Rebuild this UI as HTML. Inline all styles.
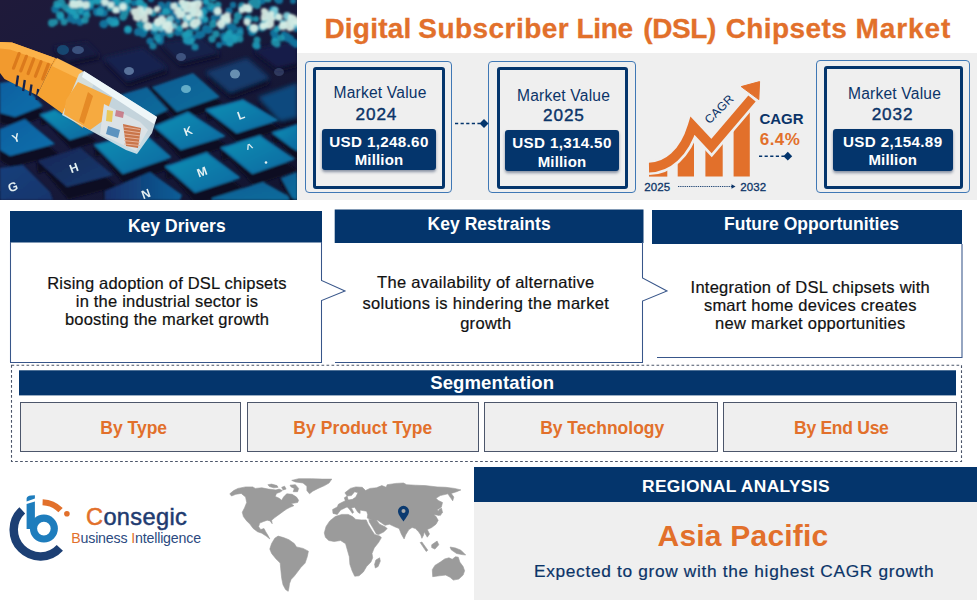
<!DOCTYPE html>
<html><head><meta charset="utf-8"><title>DSL Chipsets Market</title>
<style>
html,body{margin:0;padding:0;background:#fff;}
body{width:977px;height:600px;position:relative;overflow:hidden;font-family:"Liberation Sans",sans-serif;}
.abs{position:absolute;}
.t{position:absolute;white-space:nowrap;text-align:center;}
</style></head><body>
<svg class="abs" style="left:0;top:0" width="297" height="200" viewBox="0 0 297 200"><defs>
<linearGradient id="bg" x1="0" y1="0" x2="1" y2="1"><stop offset="0" stop-color="#1f1a3a"/><stop offset="0.4" stop-color="#181a3c"/><stop offset="1" stop-color="#12142f"/></linearGradient>
<linearGradient id="kb" x1="0" y1="0" x2="1" y2="1"><stop offset="0" stop-color="#1290b4"/><stop offset="1" stop-color="#0c68a0"/></linearGradient>
<linearGradient id="km" x1="0" y1="0" x2="1" y2="1"><stop offset="0" stop-color="#0e5e94"/><stop offset="1" stop-color="#0d6c9c"/></linearGradient>
<linearGradient id="kl" x1="0" y1="0" x2="1" y2="1"><stop offset="0" stop-color="#0f5fa0"/><stop offset="1" stop-color="#1070ab"/></linearGradient>
<linearGradient id="kd" x1="0" y1="0" x2="1" y2="1"><stop offset="0" stop-color="#1a2655"/><stop offset="1" stop-color="#173b70"/></linearGradient>
<linearGradient id="kd2" x1="0" y1="0" x2="1" y2="1"><stop offset="0" stop-color="#123f7b"/><stop offset="1" stop-color="#15356c"/></linearGradient>
<linearGradient id="kn" x1="0" y1="0" x2="1" y2="0"><stop offset="0" stop-color="#15306a"/><stop offset="1" stop-color="#0e5f98"/></linearGradient>
<filter id="b1" x="-5%" y="-5%" width="110%" height="110%"><feGaussianBlur stdDeviation="0.9"/></filter>
<filter id="b2" x="-5%" y="-5%" width="110%" height="110%"><feGaussianBlur stdDeviation="0.8"/></filter>
<filter id="b3" x="-5%" y="-5%" width="110%" height="110%"><feGaussianBlur stdDeviation="0.55"/></filter>
<filter id="b4" x="-5%" y="-5%" width="110%" height="110%"><feGaussianBlur stdDeviation="2.2"/></filter>
</defs><rect width="297" height="200" fill="url(#bg)"/><g filter="url(#b4)"><polygon points="104,63 144,53 169,73 128,87" fill="#0f0f26" /><polygon points="103,58 143,48 168,68 127,82" fill="#17244f" /><polygon points="161,47 201,41 221,57 181,67" fill="#0f0f26" /><polygon points="160,43 200,37 220,53 180,63" fill="#17224c" /><polygon points="54,51 88,46 101,59 68,66" fill="#0f0f26" /><polygon points="53,47 87,42 100,55 67,62" fill="#181c42" /><polygon points="254,54 298,44 298,67 278,72" fill="#0f0f26" /><polygon points="253,50 297,40 297,63 277,68" fill="#161f49" /><polygon points="206,78 248,64 271,84 231,99" fill="#0f0f26" /><polygon points="205,72 247,58 270,78 230,93" fill="#123b6c" /><polygon points="259,104 298,90 298,124 281,128" fill="#0f0f26" /><polygon points="258,97 297,83 297,117 280,121" fill="#0f4a7e" /></g><g filter="url(#b1)"><polygon points="153.5,95 194.5,81 221.5,105 178.5,120 152,87" fill="#0f0d22" stroke="#0f0d22" stroke-width="2.5" stroke-linejoin="round"/><polygon points="152,87 193,73 220,97 177,112" fill="url(#km)" stroke="none" stroke-width="2" stroke-linejoin="round"/><polygon points="121.5,103 148.5,95 169.5,118 151.5,126 120,95" fill="#0f0d22" stroke="#0f0d22" stroke-width="2.5" stroke-linejoin="round"/><polygon points="120,95 147,87 168,110 150,118" fill="url(#km)" stroke="none" stroke-width="2" stroke-linejoin="round"/><polygon points="1.5,92 21.5,89 44.5,115 16.5,126 1.5,122 0,83" fill="#0f0d22" stroke="#0f0d22" stroke-width="2.5" stroke-linejoin="round"/><polygon points="0,83 20,80 43,106 15,117 0,113" fill="url(#kl)" stroke="none" stroke-width="2" stroke-linejoin="round"/><polygon points="42.5,124 56.5,119 94.5,141 71.5,148 41,115" fill="#0f0d22" stroke="#0f0d22" stroke-width="2.5" stroke-linejoin="round"/><polygon points="41,115 55,110 93,132 70,139" fill="url(#kb)" stroke="#0e6fa3" stroke-width="2" stroke-linejoin="round"/><polygon points="1.5,139 26.5,129 56.5,154 11.5,166 1.5,160 0,129" fill="#0f0d22" stroke="#0f0d22" stroke-width="2.5" stroke-linejoin="round"/><polygon points="0,129 25,119 55,144 10,156 0,150" fill="url(#kl)" stroke="none" stroke-width="2" stroke-linejoin="round"/><polygon points="156.5,136.7 189.5,122.5 225.5,146 182.5,159 155,126.7" fill="#0f0d22" stroke="#0f0d22" stroke-width="2.5" stroke-linejoin="round"/><polygon points="155,126.7 188,112.5 224,136 181,149" fill="url(#kb)" stroke="#0e6fa3" stroke-width="2" stroke-linejoin="round"/><polygon points="208.2,119 244.5,109 278.2,129 238.2,141.5 206.7,110" fill="#0f0d22" stroke="#0f0d22" stroke-width="2.5" stroke-linejoin="round"/><polygon points="206.7,110 243,100 276.7,120 236.7,132.5" fill="url(#kb)" stroke="#0e6fa3" stroke-width="2" stroke-linejoin="round"/><polygon points="274.5,142 298.5,134 298.5,159 293.5,156 273,133" fill="#0f0d22" stroke="#0f0d22" stroke-width="2.5" stroke-linejoin="round"/><polygon points="273,133 297,125 297,150 292,147" fill="url(#kb)" stroke="#0e6fa3" stroke-width="2" stroke-linejoin="round"/><polygon points="96.5,155 144.5,143 171.5,167 124.5,183 95,145" fill="#0f0d22" stroke="#0f0d22" stroke-width="2.5" stroke-linejoin="round"/><polygon points="95,145 143,133 170,157 123,173" fill="url(#kb)" stroke="#0e6fa3" stroke-width="2" stroke-linejoin="round"/><polygon points="39,172 81.5,158.5 114.5,186 68.5,198 37.5,161" fill="#0f0d22" stroke="#0f0d22" stroke-width="2.5" stroke-linejoin="round"/><polygon points="37.5,161 80,147.5 113,175 67,187" fill="url(#kd)" stroke="none" stroke-width="2" stroke-linejoin="round"/><polygon points="167.5,177.7 208.2,164 240.5,188.5 196.5,202.7 166,166.7" fill="#0f0d22" stroke="#0f0d22" stroke-width="2.5" stroke-linejoin="round"/><polygon points="166,166.7 206.7,153 239,177.5 195,191.7" fill="url(#kb)" stroke="#0e6fa3" stroke-width="2" stroke-linejoin="round"/><polygon points="223.2,159 261.5,147 294.5,170 254,184 221.7,148" fill="#0f0d22" stroke="#0f0d22" stroke-width="2.5" stroke-linejoin="round"/><polygon points="221.7,148 260,136 293,159 252.5,173" fill="url(#kb)" stroke="#0e6fa3" stroke-width="2" stroke-linejoin="round"/><polygon points="1.5,179 24.5,176 51.5,203 54.5,211 1.5,211 0,168" fill="#0f0d22" stroke="#0f0d22" stroke-width="2.5" stroke-linejoin="round"/><polygon points="0,168 23,165 50,192 53,200 0,200" fill="url(#kd2)" stroke="none" stroke-width="2" stroke-linejoin="round"/><polygon points="106.5,202 151.5,183 183.5,206 181.5,211 106.5,211 105,191" fill="#0f0d22" stroke="#0f0d22" stroke-width="2.5" stroke-linejoin="round"/><polygon points="105,191 150,172 182,195 180,200 105,200" fill="url(#kn)" stroke="none" stroke-width="2" stroke-linejoin="round"/><polygon points="213.5,205 264.5,189 293.5,205 293.5,207 213.5,207 212,198" fill="#0f0d22" stroke="#0f0d22" stroke-width="2.5" stroke-linejoin="round"/><polygon points="212,198 263,182 292,198 292,200 212,200" fill="url(#km)" stroke="none" stroke-width="2" stroke-linejoin="round"/><polygon points="282.5,185 298.5,179 298.5,207 293.5,205 281,178" fill="#0f0d22" stroke="#0f0d22" stroke-width="2.5" stroke-linejoin="round"/><polygon points="281,178 297,172 297,200 292,198" fill="url(#km)" stroke="none" stroke-width="2" stroke-linejoin="round"/></g><g filter="url(#b2)"><g fill="#1388b3" opacity="0.8"><circle cx="163" cy="33" r="3.6"/><circle cx="176" cy="5" r="3.6"/><circle cx="206" cy="2" r="3.4"/><circle cx="74" cy="21" r="3.1"/><circle cx="293" cy="42" r="3.7"/><circle cx="91" cy="7" r="3.1"/><circle cx="99" cy="-1" r="3.6"/><circle cx="160" cy="41" r="3.8"/><circle cx="174" cy="15" r="3.3"/><circle cx="296" cy="44" r="3.8"/><circle cx="129" cy="9" r="3.1"/><circle cx="240" cy="30" r="3.5"/><circle cx="287" cy="36" r="3.3"/><circle cx="275" cy="35" r="3.5"/><circle cx="70" cy="11" r="3.3"/><circle cx="73" cy="14" r="3.9"/><circle cx="81" cy="-0" r="3.1"/><circle cx="247" cy="19" r="3.5"/><circle cx="99" cy="0" r="3.8"/><circle cx="81" cy="2" r="3.3"/><circle cx="290" cy="39" r="4.1"/><circle cx="104" cy="13" r="3.8"/><circle cx="77" cy="17" r="3.3"/><circle cx="241" cy="9" r="3.1"/><circle cx="74" cy="2" r="3.7"/><circle cx="143" cy="34" r="3.6"/><circle cx="193" cy="38" r="3.2"/><circle cx="275" cy="38" r="3.2"/><circle cx="233" cy="38" r="4.1"/><circle cx="268" cy="14" r="3.1"/><circle cx="61" cy="17" r="3.8"/><circle cx="115" cy="20" r="3.4"/><circle cx="95" cy="-1" r="3.3"/><circle cx="189" cy="42" r="3.3"/><circle cx="277" cy="-1" r="3.3"/><circle cx="161" cy="5" r="3.4"/><circle cx="192" cy="12" r="4.1"/><circle cx="292" cy="24" r="3.7"/><circle cx="86" cy="-2" r="4.1"/><circle cx="224" cy="36" r="3.8"/><circle cx="170" cy="10" r="4.2"/><circle cx="70" cy="11" r="4.1"/><circle cx="233" cy="28" r="4.1"/><circle cx="138" cy="32" r="4.0"/><circle cx="154" cy="31" r="3.7"/><circle cx="205" cy="20" r="3.7"/><circle cx="72" cy="15" r="4.1"/><circle cx="230" cy="26" r="3.7"/><circle cx="160" cy="37" r="3.9"/><circle cx="59" cy="6" r="3.3"/><circle cx="223" cy="21" r="4.1"/><circle cx="115" cy="3" r="3.8"/><circle cx="102" cy="13" r="3.8"/><circle cx="160" cy="39" r="3.8"/><circle cx="101" cy="12" r="4.1"/><circle cx="268" cy="20" r="3.4"/><circle cx="85" cy="12" r="4.0"/><circle cx="226" cy="38" r="3.2"/><circle cx="162" cy="6" r="3.5"/><circle cx="205" cy="10" r="4.0"/><circle cx="293" cy="1" r="3.0"/><circle cx="266" cy="25" r="3.7"/><circle cx="128" cy="-1" r="3.2"/><circle cx="163" cy="30" r="3.3"/><circle cx="87" cy="9" r="3.5"/><circle cx="206" cy="29" r="4.2"/><circle cx="220" cy="16" r="3.2"/><circle cx="55" cy="10" r="3.2"/><circle cx="119" cy="10" r="3.6"/><circle cx="203" cy="13" r="4.0"/><circle cx="274" cy="33" r="3.9"/><circle cx="84" cy="9" r="4.1"/><circle cx="144" cy="31" r="4.0"/><circle cx="283" cy="23" r="3.2"/><circle cx="229" cy="42" r="3.9"/><circle cx="104" cy="24" r="4.2"/><circle cx="184" cy="10" r="4.1"/><circle cx="262" cy="1" r="3.5"/><circle cx="187" cy="17" r="3.0"/><circle cx="250" cy="28" r="3.2"/><circle cx="134" cy="3" r="3.2"/><circle cx="179" cy="30" r="3.8"/><circle cx="284" cy="34" r="3.1"/><circle cx="106" cy="3" r="3.9"/><circle cx="209" cy="30" r="3.7"/><circle cx="128" cy="30" r="4.1"/><circle cx="103" cy="24" r="3.6"/><circle cx="192" cy="18" r="3.6"/><circle cx="200" cy="35" r="3.6"/><circle cx="150" cy="41" r="3.6"/><circle cx="221" cy="18" r="3.5"/><circle cx="286" cy="38" r="3.6"/><circle cx="83" cy="12" r="4.1"/><circle cx="169" cy="5" r="3.7"/><circle cx="279" cy="28" r="3.0"/><circle cx="100" cy="10" r="3.4"/><circle cx="139" cy="2" r="3.9"/><circle cx="82" cy="2" r="3.2"/><circle cx="182" cy="12" r="3.5"/><circle cx="182" cy="6" r="3.8"/><circle cx="208" cy="30" r="3.7"/><circle cx="262" cy="26" r="4.0"/><circle cx="273" cy="10" r="4.1"/><circle cx="105" cy="23" r="3.2"/><circle cx="111" cy="2" r="3.1"/><circle cx="256" cy="28" r="3.2"/><circle cx="151" cy="-1" r="3.2"/><circle cx="219" cy="45" r="3.1"/><circle cx="176" cy="17" r="3.8"/><circle cx="98" cy="-0" r="3.0"/><circle cx="187" cy="20" r="3.2"/><circle cx="97" cy="12" r="4.2"/><circle cx="279" cy="0" r="4.1"/><circle cx="165" cy="10" r="3.6"/><circle cx="178" cy="21" r="3.0"/><circle cx="224" cy="38" r="3.5"/><circle cx="233" cy="5" r="3.2"/><circle cx="178" cy="32" r="4.0"/><circle cx="225" cy="42" r="3.5"/><circle cx="199" cy="35" r="4.0"/><circle cx="115" cy="22" r="3.9"/><circle cx="252" cy="32" r="4.1"/><circle cx="222" cy="27" r="3.5"/><circle cx="229" cy="11" r="3.6"/><circle cx="55" cy="9" r="3.7"/><circle cx="109" cy="21" r="3.4"/><circle cx="214" cy="18" r="3.5"/><circle cx="297" cy="25" r="3.9"/><circle cx="292" cy="21" r="3.9"/><circle cx="115" cy="-1" r="3.2"/><circle cx="144" cy="8" r="4.1"/><circle cx="187" cy="35" r="3.7"/><circle cx="296" cy="29" r="3.1"/><circle cx="198" cy="-0" r="4.1"/><circle cx="91" cy="1" r="3.6"/><circle cx="202" cy="34" r="3.5"/><circle cx="181" cy="12" r="3.3"/><circle cx="213" cy="9" r="3.9"/><circle cx="125" cy="2" r="3.1"/><circle cx="90" cy="5" r="4.1"/><circle cx="235" cy="36" r="4.1"/><circle cx="70" cy="19" r="3.6"/><circle cx="290" cy="18" r="4.1"/><circle cx="229" cy="35" r="4.0"/><circle cx="200" cy="22" r="3.5"/><circle cx="102" cy="7" r="3.1"/><circle cx="161" cy="15" r="3.3"/><circle cx="195" cy="28" r="3.6"/><circle cx="296" cy="43" r="3.3"/><circle cx="80" cy="22" r="3.7"/></g><g fill="#1fa8bf" opacity="0.8"><circle cx="140" cy="24" r="3.7"/><circle cx="197" cy="27" r="3.2"/><circle cx="113" cy="23" r="4.1"/><circle cx="62" cy="3" r="3.5"/><circle cx="205" cy="19" r="3.1"/><circle cx="73" cy="7" r="3.8"/><circle cx="143" cy="6" r="3.4"/><circle cx="234" cy="37" r="3.1"/><circle cx="250" cy="27" r="3.3"/><circle cx="156" cy="29" r="3.4"/><circle cx="212" cy="39" r="3.7"/><circle cx="235" cy="40" r="3.4"/><circle cx="76" cy="16" r="3.1"/><circle cx="190" cy="24" r="3.4"/><circle cx="242" cy="6" r="3.8"/><circle cx="72" cy="10" r="3.8"/><circle cx="121" cy="4" r="3.9"/><circle cx="142" cy="25" r="3.7"/><circle cx="277" cy="44" r="3.5"/><circle cx="249" cy="10" r="3.5"/><circle cx="281" cy="38" r="3.4"/><circle cx="142" cy="13" r="3.5"/><circle cx="100" cy="12" r="3.6"/><circle cx="257" cy="5" r="3.9"/><circle cx="268" cy="-1" r="3.6"/><circle cx="185" cy="35" r="3.8"/><circle cx="249" cy="19" r="3.9"/><circle cx="73" cy="11" r="4.1"/><circle cx="73" cy="0" r="3.9"/><circle cx="211" cy="6" r="3.9"/><circle cx="180" cy="13" r="3.4"/><circle cx="289" cy="17" r="3.6"/><circle cx="229" cy="33" r="3.5"/><circle cx="254" cy="30" r="4.0"/><circle cx="256" cy="45" r="3.8"/><circle cx="180" cy="28" r="3.5"/><circle cx="155" cy="26" r="4.2"/><circle cx="144" cy="6" r="3.5"/><circle cx="124" cy="16" r="3.4"/><circle cx="80" cy="11" r="3.2"/><circle cx="67" cy="8" r="4.1"/><circle cx="61" cy="1" r="3.3"/><circle cx="110" cy="8" r="3.3"/><circle cx="97" cy="1" r="3.9"/><circle cx="128" cy="29" r="3.6"/><circle cx="116" cy="23" r="3.4"/><circle cx="186" cy="40" r="3.3"/><circle cx="64" cy="22" r="3.5"/><circle cx="181" cy="8" r="4.2"/><circle cx="213" cy="-2" r="3.6"/><circle cx="143" cy="25" r="3.7"/><circle cx="91" cy="3" r="3.3"/><circle cx="265" cy="22" r="4.2"/><circle cx="117" cy="1" r="3.9"/><circle cx="52" cy="23" r="4.0"/><circle cx="72" cy="10" r="3.1"/><circle cx="170" cy="34" r="3.7"/><circle cx="262" cy="28" r="3.5"/><circle cx="277" cy="29" r="3.3"/><circle cx="185" cy="4" r="4.0"/><circle cx="128" cy="1" r="3.4"/><circle cx="166" cy="12" r="3.8"/><circle cx="78" cy="6" r="4.2"/><circle cx="255" cy="-2" r="3.5"/><circle cx="226" cy="19" r="3.5"/><circle cx="55" cy="22" r="3.2"/><circle cx="203" cy="12" r="3.6"/><circle cx="125" cy="13" r="3.8"/><circle cx="115" cy="10" r="3.4"/><circle cx="284" cy="26" r="3.4"/><circle cx="255" cy="3" r="3.1"/><circle cx="218" cy="5" r="3.5"/><circle cx="257" cy="1" r="3.3"/><circle cx="90" cy="5" r="3.1"/><circle cx="278" cy="17" r="3.8"/><circle cx="240" cy="39" r="3.4"/><circle cx="153" cy="13" r="3.8"/><circle cx="293" cy="23" r="3.7"/><circle cx="57" cy="4" r="3.8"/><circle cx="78" cy="7" r="3.9"/><circle cx="254" cy="4" r="3.9"/><circle cx="273" cy="11" r="3.6"/><circle cx="87" cy="15" r="3.6"/><circle cx="227" cy="38" r="4.1"/><circle cx="206" cy="1" r="3.3"/><circle cx="193" cy="11" r="4.1"/><circle cx="140" cy="3" r="4.2"/><circle cx="85" cy="20" r="3.7"/><circle cx="189" cy="33" r="4.2"/><circle cx="252" cy="3" r="4.0"/><circle cx="123" cy="17" r="3.7"/><circle cx="256" cy="19" r="3.1"/><circle cx="60" cy="15" r="4.1"/><circle cx="213" cy="24" r="3.9"/><circle cx="146" cy="29" r="3.0"/><circle cx="101" cy="0" r="3.5"/><circle cx="192" cy="18" r="3.3"/><circle cx="191" cy="22" r="3.0"/><circle cx="216" cy="34" r="3.7"/><circle cx="167" cy="22" r="3.8"/><circle cx="238" cy="16" r="4.2"/><circle cx="257" cy="40" r="3.5"/><circle cx="191" cy="41" r="3.6"/><circle cx="158" cy="39" r="3.1"/><circle cx="230" cy="43" r="3.7"/><circle cx="236" cy="21" r="3.1"/><circle cx="82" cy="7" r="3.5"/><circle cx="65" cy="7" r="3.3"/><circle cx="127" cy="7" r="3.1"/><circle cx="275" cy="42" r="4.0"/></g><g fill="#7fd0dc" opacity="0.9"><circle cx="174" cy="26" r="3.0"/><circle cx="161" cy="27" r="4.3"/><circle cx="170" cy="19" r="3.5"/><circle cx="159" cy="22" r="4.3"/><circle cx="170" cy="22" r="3.4"/><circle cx="154" cy="27" r="3.8"/><circle cx="166" cy="26" r="3.9"/><circle cx="200" cy="16" r="3.3"/><circle cx="193" cy="4" r="3.2"/><circle cx="186" cy="18" r="4.0"/><circle cx="217" cy="12" r="3.3"/><circle cx="225" cy="21" r="4.0"/><circle cx="248" cy="9" r="3.2"/><circle cx="296" cy="24" r="4.0"/><circle cx="275" cy="10" r="3.6"/><circle cx="264" cy="26" r="3.9"/><circle cx="275" cy="15" r="3.9"/><circle cx="287" cy="16" r="3.9"/><circle cx="283" cy="23" r="3.3"/><circle cx="123" cy="6" r="3.7"/><circle cx="144" cy="10" r="3.0"/></g><g fill="#dcefe6" opacity="0.92"><circle cx="148" cy="26" r="4.0"/><circle cx="144" cy="16" r="4.0"/><circle cx="165" cy="26" r="3.1"/><circle cx="180" cy="15" r="3.5"/><circle cx="162" cy="20" r="4.2"/><circle cx="158" cy="22" r="4.2"/><circle cx="169" cy="29" r="4.1"/><circle cx="182" cy="14" r="3.2"/><circle cx="157" cy="9" r="3.1"/><circle cx="166" cy="26" r="3.3"/><circle cx="168" cy="25" r="4.0"/><circle cx="194" cy="24" r="4.3"/><circle cx="189" cy="17" r="3.1"/><circle cx="192" cy="9" r="4.0"/><circle cx="195" cy="23" r="4.2"/><circle cx="198" cy="13" r="4.0"/><circle cx="185" cy="25" r="3.2"/><circle cx="187" cy="9" r="3.9"/><circle cx="198" cy="4" r="4.1"/><circle cx="197" cy="8" r="3.3"/><circle cx="197" cy="22" r="3.8"/><circle cx="194" cy="13" r="3.9"/><circle cx="184" cy="6" r="3.2"/><circle cx="227" cy="16" r="3.6"/><circle cx="221" cy="24" r="4.2"/><circle cx="224" cy="18" r="3.4"/><circle cx="218" cy="11" r="3.8"/><circle cx="228" cy="20" r="3.3"/><circle cx="249" cy="9" r="3.3"/><circle cx="246" cy="8" r="4.0"/><circle cx="247" cy="8" r="4.0"/><circle cx="242" cy="10" r="3.1"/><circle cx="268" cy="24" r="3.3"/><circle cx="247" cy="22" r="3.4"/><circle cx="279" cy="17" r="3.5"/><circle cx="265" cy="16" r="3.9"/><circle cx="254" cy="28" r="4.0"/><circle cx="269" cy="25" r="3.7"/><circle cx="270" cy="23" r="3.6"/><circle cx="271" cy="14" r="3.1"/><circle cx="264" cy="11" r="3.0"/><circle cx="270" cy="24" r="4.2"/><circle cx="265" cy="12" r="3.2"/><circle cx="268" cy="17" r="3.5"/><circle cx="283" cy="26" r="4.0"/><circle cx="264" cy="18" r="3.3"/><circle cx="272" cy="19" r="3.0"/><circle cx="263" cy="26" r="3.2"/><circle cx="290" cy="23" r="3.9"/><circle cx="287" cy="24" r="3.1"/><circle cx="296" cy="21" r="4.1"/><circle cx="293" cy="19" r="4.2"/><circle cx="290" cy="27" r="4.2"/><circle cx="291" cy="17" r="3.1"/><circle cx="73" cy="4" r="3.5"/><circle cx="76" cy="5" r="3.2"/><circle cx="73" cy="4" r="3.9"/><circle cx="80" cy="4" r="3.5"/><circle cx="86" cy="5" r="3.7"/><circle cx="79" cy="3" r="3.5"/><circle cx="123" cy="7" r="3.6"/><circle cx="111" cy="5" r="3.3"/><circle cx="116" cy="10" r="3.6"/><circle cx="105" cy="2" r="3.7"/><circle cx="149" cy="11" r="3.8"/><circle cx="137" cy="17" r="4.1"/><circle cx="145" cy="19" r="3.5"/><circle cx="144" cy="14" r="3.3"/><circle cx="140" cy="10" r="3.7"/><circle cx="138" cy="17" r="3.8"/><circle cx="135" cy="12" r="4.1"/><circle cx="188" cy="5" r="4.2"/><circle cx="178" cy="11" r="3.9"/><circle cx="194" cy="5" r="3.8"/><circle cx="174" cy="6" r="3.4"/><circle cx="182" cy="2" r="3.3"/></g><circle cx="230" cy="41" r="3.6" fill="#1b93b3" opacity="0.85"/><circle cx="187" cy="41" r="3.6" fill="#1b93b3" opacity="0.85"/><circle cx="157" cy="37" r="3.6" fill="#1b93b3" opacity="0.85"/><circle cx="153" cy="46" r="3.6" fill="#1b93b3" opacity="0.85"/><circle cx="257" cy="46" r="3.6" fill="#1b93b3" opacity="0.85"/><circle cx="195" cy="47" r="3.6" fill="#1b93b3" opacity="0.85"/><circle cx="240" cy="33" r="3.6" fill="#1b93b3" opacity="0.85"/><circle cx="110" cy="20" r="3.6" fill="#1b93b3" opacity="0.85"/><circle cx="100" cy="12" r="3.6" fill="#1b93b3" opacity="0.85"/></g><g filter="url(#b3)" fill="#e4f0f2" font-family="Liberation Sans, sans-serif" font-weight="bold" font-size="11.5"><text x="188" y="135" font-size="11.5" text-anchor="middle" transform="rotate(-20 188 131)">K</text><text x="241" y="119" font-size="11.5" text-anchor="middle" transform="rotate(-20 241 115)">L</text><text x="202" y="176" font-size="12" text-anchor="middle" transform="rotate(-20 202 172)">M</text><text x="74" y="172" font-size="12" text-anchor="middle" transform="rotate(-20 74 168)">H</text><text x="16" y="142" font-size="11.5" text-anchor="middle" transform="rotate(-20 16 138)">Y</text><text x="13" y="191" font-size="12.5" text-anchor="middle" transform="rotate(-20 13 187)">G</text><text x="146" y="198" font-size="12" text-anchor="middle" transform="rotate(-20 146 194)">N</text><text x="250" y="152" font-size="12" text-anchor="middle" transform="rotate(-20 250 148)">^</text><circle cx="266" cy="162.5" r="1.3"/><ellipse cx="186" cy="89" rx="5" ry="4" fill="#7fc4d8" opacity="0.75"/><ellipse cx="235" cy="74" rx="5" ry="4.5" fill="#9fc6e0" opacity="0.6"/><ellipse cx="129" cy="71" rx="5" ry="4" fill="#8fb4d8" opacity="0.55"/><ellipse cx="181" cy="57" rx="5" ry="4" fill="#6f8fbf" opacity="0.45"/><ellipse cx="78" cy="50" rx="6" ry="4" fill="#5f86b8" opacity="0.5"/><ellipse cx="63" cy="50" rx="6" ry="5" fill="#1b6f9f" opacity="0.5"/><ellipse cx="279" cy="72" rx="5" ry="4" fill="#6f8fbf" opacity="0.3"/></g><g filter="url(#b3)"><polygon points="0,42 12,42.4 55.1,58.1 37.1,95.2 4.5,79 0,73" fill="#f29a2e" /><polygon points="0,42 12,42.4 55.1,58.1 52,64 10,49.5 0,48.5" fill="#fbb24a" /><line x1="19.1" y1="53.6" x2="13.5" y2="68.2" stroke="#db7a1c" stroke-width="3.2" stroke-linecap="round"/><line x1="26.4" y1="56.3" x2="20.8" y2="70.9" stroke="#db7a1c" stroke-width="3.2" stroke-linecap="round"/><line x1="33.7" y1="59.0" x2="28.1" y2="73.6" stroke="#db7a1c" stroke-width="3.2" stroke-linecap="round"/><line x1="41.0" y1="61.7" x2="35.4" y2="76.3" stroke="#db7a1c" stroke-width="3.2" stroke-linecap="round"/><line x1="48.3" y1="64.4" x2="42.7" y2="79.0" stroke="#db7a1c" stroke-width="3.2" stroke-linecap="round"/><line x1="18.0" y1="75.5" x2="16.4" y2="86.5" stroke="#16224c" stroke-width="2.3"/><line x1="24.8" y1="80.0" x2="23.1" y2="91.0" stroke="#16224c" stroke-width="2.3"/><line x1="31.5" y1="84.5" x2="29.9" y2="95.5" stroke="#16224c" stroke-width="2.3"/><line x1="38.2" y1="89.0" x2="36.6" y2="100.0" stroke="#16224c" stroke-width="2.3"/><polygon points="55.1,58.1 82.1,71.6 95,80 88,100 83,128 63.4,114.3 37.1,95.2" fill="#f5a233" /><polygon points="57,58 83,71 79,79 52,66" fill="#fbb650" /><polygon points="79,74 84,71 157,117 152,133 137,154 126,150 62,115 66,105" fill="#d2e2e8" opacity="0.93"/><polygon points="66,100 78,82 112,97.5 104,120 90,130 64,114.3" fill="#f6aa40" /><polygon points="88,92 93,96 84,124 79,121" fill="#e58a25" /><polygon points="84,71 157,117 154,124 82,77" fill="#eef6f8" /><polygon points="104,104 140,122 148,130 136,151 100,134" fill="#dbe2e6" /><polygon points="123,124 141,128 138,148 126,146" fill="#c9744a" /><line x1="124" y1="127.0" x2="140" y2="129.5" stroke="#e9b9a0" stroke-width="0.9"/><line x1="124" y1="130.4" x2="140" y2="132.7" stroke="#e9b9a0" stroke-width="0.9"/><line x1="124" y1="133.8" x2="140" y2="135.9" stroke="#e9b9a0" stroke-width="0.9"/><line x1="124" y1="137.2" x2="140" y2="139.1" stroke="#e9b9a0" stroke-width="0.9"/><line x1="124" y1="140.6" x2="140" y2="142.3" stroke="#e9b9a0" stroke-width="0.9"/><line x1="124" y1="144.0" x2="140" y2="145.5" stroke="#e9b9a0" stroke-width="0.9"/><polygon points="107,110 113,111 112,122 106,121" fill="#e9c85a" /><polygon points="108,126 120,130 118,138 106,134" fill="#3d7fb5" opacity="0.8"/><polygon points="116,110 124,112 123,118 115,116" fill="#c05a6a" opacity="0.7"/></g></svg>
<div class="abs" style="left:297px;top:52.5px;width:680px;height:147.5px;background:#efefef;"></div>
<div class="abs" style="left:324.4px;top:11.5px;white-space:nowrap;font-size:28px;line-height:34px;font-weight:bold;color:#e2702b;-webkit-text-stroke:0.3px #e2702b;letter-spacing:0.22px;">Digital</div>
<div class="abs" style="left:418.3px;top:11.5px;white-space:nowrap;font-size:28px;line-height:34px;font-weight:bold;color:#e2702b;-webkit-text-stroke:0.3px #e2702b;letter-spacing:0.45px;">Subscriber</div>
<div class="abs" style="left:576.6px;top:11.5px;white-space:nowrap;font-size:28px;line-height:34px;font-weight:bold;color:#e2702b;-webkit-text-stroke:0.3px #e2702b;letter-spacing:-0.39px;">Line</div>
<div class="abs" style="left:643.3px;top:11.5px;white-space:nowrap;font-size:28px;line-height:34px;font-weight:bold;color:#e2702b;-webkit-text-stroke:0.3px #e2702b;letter-spacing:-0.41px;">(DSL)</div>
<div class="abs" style="left:725.7px;top:11.5px;white-space:nowrap;font-size:28px;line-height:34px;font-weight:bold;color:#e2702b;-webkit-text-stroke:0.3px #e2702b;letter-spacing:0.41px;">Chipsets</div>
<div class="abs" style="left:855.5px;top:11.5px;white-space:nowrap;font-size:28px;line-height:34px;font-weight:bold;color:#e2702b;-webkit-text-stroke:0.3px #e2702b;letter-spacing:0.89px;">Market</div>
<div class="abs" style="left:305px;top:61px;width:147px;height:132px;border:1px solid #3f78b5;border-radius:4px;box-sizing:border-box;"></div><div class="abs" style="left:313px;top:67px;width:132px;height:122px;border:3px solid #04356c;border-radius:3px;box-sizing:border-box;"></div><div class="abs" style="left:322px;top:129px;width:114px;height:41px;background:#04356c;border-radius:3px;box-shadow:0 2px 3px rgba(10,30,70,0.45);"></div><div class="t" style="left:-320.0px;width:1400px;top:83.0px;line-height:19px;font-size:15.6px;font-weight:normal;color:#0b3468;letter-spacing:0.2px;">Market Value</div><div class="t" style="left:-323.6px;width:1400px;top:104.3px;line-height:21px;font-size:17.2px;font-weight:normal;color:#0b3468;letter-spacing:0.85px;-webkit-text-stroke:0.4px #0b3468;">2024</div><div class="t" style="left:-321.0px;width:1400px;top:132.7px;line-height:18px;font-size:15.2px;font-weight:bold;color:#fff;letter-spacing:0.33px;">USD 1,248.60</div><div class="t" style="left:-321.0px;width:1400px;top:151.0px;line-height:18px;font-size:15px;font-weight:bold;color:#fff;letter-spacing:0.15px;">Million</div>
<div class="abs" style="left:488px;top:61px;width:148px;height:132px;border:1px solid #3f78b5;border-radius:4px;box-sizing:border-box;"></div><div class="abs" style="left:497px;top:67px;width:131px;height:122px;border:3px solid #04356c;border-radius:3px;box-sizing:border-box;"></div><div class="abs" style="left:505px;top:130px;width:114px;height:41px;background:#04356c;border-radius:3px;box-shadow:0 2px 3px rgba(10,30,70,0.45);"></div><div class="t" style="left:-136.5px;width:1400px;top:85.5px;line-height:19px;font-size:15.6px;font-weight:normal;color:#0b3468;letter-spacing:0.2px;">Market Value</div><div class="t" style="left:-136.10000000000002px;width:1400px;top:105.3px;line-height:21px;font-size:17.2px;font-weight:normal;color:#0b3468;letter-spacing:0.85px;-webkit-text-stroke:0.4px #0b3468;">2025</div><div class="t" style="left:-138.0px;width:1400px;top:134.2px;line-height:18px;font-size:15.2px;font-weight:bold;color:#fff;letter-spacing:0.33px;">USD 1,314.50</div><div class="t" style="left:-138.0px;width:1400px;top:152.5px;line-height:18px;font-size:15px;font-weight:bold;color:#fff;letter-spacing:0.15px;">Million</div>
<div class="abs" style="left:816px;top:60px;width:154px;height:133px;border:1px solid #3f78b5;border-radius:4px;box-sizing:border-box;"></div><div class="abs" style="left:824px;top:66px;width:139px;height:123px;border:3px solid #04356c;border-radius:3px;box-sizing:border-box;"></div><div class="abs" style="left:832.5px;top:129px;width:120.5px;height:41.5px;background:#04356c;border-radius:3px;box-shadow:0 2px 3px rgba(10,30,70,0.45);"></div><div class="t" style="left:194.5px;width:1400px;top:84.0px;line-height:19px;font-size:15.6px;font-weight:normal;color:#0b3468;letter-spacing:0.2px;">Market Value</div><div class="t" style="left:192.5px;width:1400px;top:104.3px;line-height:21px;font-size:17.2px;font-weight:normal;color:#0b3468;letter-spacing:0.85px;-webkit-text-stroke:0.4px #0b3468;">2032</div><div class="t" style="left:192.75px;width:1400px;top:133.0px;line-height:18px;font-size:15.2px;font-weight:bold;color:#fff;letter-spacing:0.33px;">USD 2,154.89</div><div class="t" style="left:192.75px;width:1400px;top:151.3px;line-height:18px;font-size:15px;font-weight:bold;color:#fff;letter-spacing:0.15px;">Million</div>
<svg class="abs" style="left:0;top:0" width="977" height="600"><g fill="none" stroke="#04356c"><line x1="455" y1="123.5" x2="480" y2="123.5" stroke-width="1.6" stroke-dasharray="3.2 2.4"/><line x1="759" y1="156.2" x2="784.5" y2="156.2" stroke-width="1.6" stroke-dasharray="3.2 2.4"/></g><g fill="#04356c"><path d="M479.5 123.5 l4.5 -4.5 l4.5 4.5 l-4.5 4.5z"/><path d="M783.4 156.2 l4.4 -4.4 l4.4 4.4 l-4.4 4.4z"/></g></svg>
<svg class="abs" style="left:0;top:0" width="977" height="600"><g fill="#e2702b"><rect x="649" y="170" width="18.3" height="6.6"/><path d="M677.7 160 L694 139.3 V176.6 H677.7Z"/><path d="M705.4 149.1 L711.3 155.6 L722.7 141.5 V176.4 H705.4Z"/><path d="M733.6 124.2 L749.8 105.8 V176.4 H733.6Z"/></g><path d="M649 167.6 C667 167.3 684 154 692.6 125.8 L711.5 146 L752 98.5" fill="none" stroke="#efefef" stroke-width="15" stroke-linejoin="miter" stroke-miterlimit="6"/><path d="M649 167.6 C667 167.3 684 154 692.6 125.8 L711.5 146 L752 98.5" fill="none" stroke="#e2702b" stroke-width="9.6" stroke-linejoin="miter" stroke-miterlimit="6"/><path d="M759.6 81.6 L741.2 86.6 L758.8 99.6 Z" fill="#e2702b" stroke="#e2702b" stroke-width="1" stroke-linejoin="round"/><text x="719.2" y="113.2" font-family="Liberation Sans, sans-serif" font-size="12" fill="#0b3468" text-anchor="middle" transform="rotate(-45 719.2 109.2)" letter-spacing="0.2">CAGR</text><line x1="678" y1="186.5" x2="732" y2="186.5" stroke="#0b3468" stroke-width="0.9" stroke-dasharray="1.3 0.9"/><path d="M731.5 184.2 L735.5 186.5 L731.5 188.8Z" fill="#0b3468"/></svg><div class="t" style="left:81.5px;width:1400px;top:110.0px;line-height:18px;font-size:15px;font-weight:bold;color:#0b3468;letter-spacing:-0.1px;">CAGR</div><div class="t" style="left:80px;width:1400px;top:130.0px;line-height:20px;font-size:17px;font-weight:bold;color:#e2702b;letter-spacing:0.4px;">6.4%</div><div class="t" style="left:-42.700000000000045px;width:1400px;top:179.5px;line-height:14px;font-size:11.5px;font-weight:normal;color:#0b3468;letter-spacing:0.1px;-webkit-text-stroke:0.3px #0b3468;">2025</div><div class="t" style="left:53.299999999999955px;width:1400px;top:179.5px;line-height:14px;font-size:11.5px;font-weight:normal;color:#0b3468;letter-spacing:0.1px;-webkit-text-stroke:0.3px #0b3468;">2032</div>
<svg class="abs" style="left:0;top:0" width="977" height="600"><rect x="10" y="211" width="312" height="31.5" fill="#04356c"/></svg><div class="t" style="left:-523.2px;width:1400px;top:215.5px;line-height:21px;font-size:17.5px;font-weight:bold;color:#fff;letter-spacing:0.05px;">Key Drivers</div><svg class="abs" style="left:0;top:0" width="977" height="600"><rect x="334.7" y="209.5" width="308.8" height="33.5" fill="#04356c"/></svg><div class="t" style="left:-210.89999999999998px;width:1400px;top:214.0px;line-height:21px;font-size:17.5px;font-weight:bold;color:#fff;letter-spacing:0.05px;">Key Restraints</div><svg class="abs" style="left:0;top:0" width="977" height="600"><rect x="652" y="210" width="310" height="34" fill="#04356c"/></svg><div class="t" style="left:111.5px;width:1400px;top:214.0px;line-height:21px;font-size:17.5px;font-weight:bold;color:#fff;letter-spacing:0.05px;">Future Opportunities</div><svg class="abs" style="left:0;top:0" width="977" height="600"><g fill="none" stroke="#38568a" stroke-width="1.05"><path d="M10.5 242 V362.5 H321.5 V300.5 L345 291 L321.5 280.5 V242"/><path d="M335 362.5 H642.5 V301 L667 291 L642.5 278 V242"/><path d="M657 357.5 H962 V244"/></g></svg><div class="t" style="left:-533px;width:1400px;top:272.8px;line-height:20px;font-size:16.5px;font-weight:normal;color:#111;letter-spacing:0.2px;-webkit-text-stroke:0.2px #111;">Rising adoption of DSL chipsets</div><div class="t" style="left:-533px;width:1400px;top:291.1px;line-height:20px;font-size:16.5px;font-weight:normal;color:#111;letter-spacing:0.2px;-webkit-text-stroke:0.2px #111;">in the industrial sector is</div><div class="t" style="left:-533px;width:1400px;top:309.4px;line-height:20px;font-size:16.5px;font-weight:normal;color:#111;letter-spacing:0.2px;-webkit-text-stroke:0.2px #111;">boosting the market growth</div><div class="t" style="left:-214.2px;width:1400px;top:272.0px;line-height:20px;font-size:16.5px;font-weight:normal;color:#111;letter-spacing:0.3px;-webkit-text-stroke:0.2px #111;">The availability of alternative</div><div class="t" style="left:-214.2px;width:1400px;top:292.5px;line-height:20px;font-size:16.5px;font-weight:normal;color:#111;letter-spacing:0.3px;-webkit-text-stroke:0.2px #111;">solutions is hindering the market</div><div class="t" style="left:-214.2px;width:1400px;top:313.0px;line-height:20px;font-size:16.5px;font-weight:normal;color:#111;letter-spacing:0.3px;-webkit-text-stroke:0.2px #111;">growth</div><div class="t" style="left:110.29999999999995px;width:1400px;top:277.2px;line-height:20px;font-size:16.5px;font-weight:normal;color:#111;letter-spacing:0.25px;-webkit-text-stroke:0.2px #111;">Integration of DSL chipsets with</div><div class="t" style="left:110.29999999999995px;width:1400px;top:295.3px;line-height:20px;font-size:16.5px;font-weight:normal;color:#111;letter-spacing:0.25px;-webkit-text-stroke:0.2px #111;">smart home devices creates</div><div class="t" style="left:110.29999999999995px;width:1400px;top:313.4px;line-height:20px;font-size:16.5px;font-weight:normal;color:#111;letter-spacing:0.25px;-webkit-text-stroke:0.2px #111;">new market opportunities</div><svg class="abs" style="left:0;top:0" width="977" height="600"><rect x="11.5" y="365.2" width="950" height="96.3" fill="none" stroke="#4a5468" stroke-width="1.1" stroke-dasharray="2.7 2.3"/></svg><svg class="abs" style="left:0;top:0" width="977" height="600"><rect x="19" y="370.3" width="937" height="25.099999999999966" fill="#04356c"/></svg><div class="t" style="left:-207.8px;width:1400px;top:372.0px;line-height:22px;font-size:18.5px;font-weight:bold;color:#fff;letter-spacing:0.15px;">Segmentation</div><div class="abs" style="left:20px;top:402.3px;width:221px;height:49.6px;background:#efefef;border:1.2px solid #4c566b;box-sizing:border-box;"></div><div class="t" style="left:-566.3px;width:1400px;top:417.9px;line-height:21px;font-size:17.5px;font-weight:bold;color:#e2702b;letter-spacing:0.0px;">By Type</div><div class="abs" style="left:246.5px;top:402.3px;width:232.5px;height:49.6px;background:#efefef;border:1.2px solid #4c566b;box-sizing:border-box;"></div><div class="t" style="left:-337.2px;width:1400px;top:417.9px;line-height:21px;font-size:17.5px;font-weight:bold;color:#e2702b;letter-spacing:0.08px;">By Product Type</div><div class="abs" style="left:484px;top:402.3px;width:234px;height:49.6px;background:#efefef;border:1.2px solid #4c566b;box-sizing:border-box;"></div><div class="t" style="left:-97.79999999999995px;width:1400px;top:417.9px;line-height:21px;font-size:17.5px;font-weight:bold;color:#e2702b;letter-spacing:0.0px;">By Technology</div><div class="abs" style="left:723px;top:402.3px;width:234px;height:49.6px;background:#efefef;border:1.2px solid #4c566b;box-sizing:border-box;"></div><div class="t" style="left:141.29999999999995px;width:1400px;top:417.9px;line-height:21px;font-size:17.5px;font-weight:bold;color:#e2702b;letter-spacing:-0.27px;">By End Use</div>
<svg class="abs" style="left:0;top:0" width="977" height="600"><path d="M22.25 510.26 A26.6 26.6 0 1 0 59.84 547.85" fill="none" stroke="#1c3f74" stroke-width="8.5"/><path d="M42.61 502.22 A26.2 26.2 0 0 1 60.55 510.20" fill="none" stroke="#e2702b" stroke-width="6"/><circle cx="66.9" cy="513.8" r="2.8" fill="#e2702b"/><circle cx="43.9" cy="528.6" r="10.4" fill="none" stroke="#1e7dbd" stroke-width="7.2"/><path d="M26.6 504 L34.9 501.5 V529 H26.6Z" fill="#1e7dbd"/><path d="M26.6 498.5 Q27 495.6 31 495.4 L34.9 495.2 V498.6 L26.6 501.6Z" fill="#1e7dbd"/></svg><div class="abs" style="left:86px;top:503px;white-space:nowrap;font-size:23.6px;line-height:28px;letter-spacing:0.35px;color:#1f3b70;-webkit-text-stroke:0.5px #1f3b70;"><span style="color:#e2702b;-webkit-text-stroke:0.5px #e2702b;">C</span>onsegic</div><div class="abs" style="left:71.2px;top:530px;white-space:nowrap;font-size:14.2px;line-height:17px;letter-spacing:-0.17px;color:#2b4a80;"><span style="color:#e2702b;">B</span>usiness <span style="color:#e2702b;">I</span>ntelligence</div>
<svg class="abs" style="left:0;top:0" width="977" height="600"><g fill="#9b9b9b" stroke="#9b9b9b" stroke-width="0.6" stroke-linejoin="round"><path d="M229.8 493.8L233.7 490.6L238.0 488.4L245.6 486.9L252.7 486.9L255.3 488.4L261.8 487.8L268.3 489.1L275.9 489.9L279.1 489.1L282.4 490.6L280.2 492.1L276.5 493.4L275.2 496.4L279.1 498.2L281.7 500.3L283.5 497.1L286.7 493.8L292.1 494.3L296.5 497.1L298.6 500.3L297.6 502.5L291.1 503.6L293.9 505.7L290.0 507.3L286.7 509.0L283.5 511.2L279.1 514.4L274.8 517.6L271.6 520.2L272.2 523.7L270.1 520.9L267.2 520.2L263.6 521.5L259.7 523.1L258.6 526.7L260.7 529.6L264.0 528.5L265.7 531.7L268.3 536.1L269.8 538.9L266.2 536.1L261.8 533.2L257.5 531.7L253.2 528.5L249.9 524.1L246.7 520.9L243.4 516.6L242.3 512.2L244.5 507.9L246.7 502.5L245.6 497.1L241.2 493.4L235.8 494.3L231.5 496.0Z"/><path d="M291.7 480.4L298.6 478.7L311.6 478.7L322.5 479.1L331.8 479.1L329.0 483.0L324.6 485.6L318.1 488.4L312.7 491.2L309.5 493.8L306.9 490.6L306.9 486.2L303.0 483.0L295.4 481.9Z"/><path d="M267.9 484.7L271.6 484.1L277.0 485.6L278.1 487.3L273.7 487.8L269.4 486.5Z"/><path d="M281.7 487.3L284.6 486.2L286.1 489.1L283.0 489.9Z"/><path d="M290.0 485.2L295.4 484.7L298.6 488.4L297.6 491.7L293.2 491.7L294.3 488.4L291.1 486.9Z"/><path d="M269.8 549.1L271.6 543.6L274.8 538.2L278.1 536.1L283.5 537.6L288.9 539.7L294.3 543.6L296.5 546.9L303.0 548.4L308.4 551.2L307.3 556.6L305.1 563.1L300.8 567.5L297.6 571.8L294.3 576.1L291.1 579.4L289.5 583.7L288.9 588.0L288.2 591.3L285.6 589.6L283.0 584.8L281.7 578.3L280.9 570.7L280.2 563.1L275.9 558.8L271.6 553.4Z"/><path d="M324.3 532.9L326.1 526.4L329.8 520.9L335.2 516.6L341.7 514.4L348.2 514.4L352.5 516.6L355.8 519.4L361.2 519.9L366.2 519.9L368.1 524.2L371.6 530.1L374.6 534.4L379.6 536.1L381.4 537.6L378.5 542.6L374.2 548.0L372.0 553.5L372.7 557.8L370.9 562.1L366.6 566.5L363.4 571.9L359.0 575.8L354.7 576.2L352.1 570.8L349.9 564.3L349.3 556.7L347.1 549.1L345.6 543.7L340.6 540.5L334.1 541.5L328.7 540.5L325.4 537.2Z"/><path d="M375.9 560.0L379.6 557.8L380.3 561.1L378.1 566.5L375.3 568.0L374.6 564.3Z"/><path d="M368.8 519.4L376.4 520.3L379.6 524.2L385.0 526.8L387.2 528.5L384.0 531.8L378.5 534.6L376.4 534.0L372.7 527.5L369.4 522.0Z"/><path d="M332.6 509.5L333.0 513.4L337.3 514.4L340.6 510.1L344.9 507.9L347.1 506.9L349.3 509.0L352.5 513.4L353.6 512.3L351.4 507.9L354.7 507.3L357.9 512.3L360.1 513.4L360.1 510.1L366.6 511.2L367.7 514.4L367.3 518.1L372.0 519.9L377.5 520.3L379.6 521.6L385.0 525.3L389.4 524.2L394.8 526.8L399.1 528.5L401.3 534.0L404.1 538.9L405.6 535.0L408.9 529.6L412.1 527.5L415.4 528.5L418.6 531.8L420.8 535.0L421.9 538.3L423.6 535.0L424.1 531.8L427.3 537.2L429.5 534.0L427.3 529.6L431.7 527.5L436.0 524.2L438.2 520.3L436.0 516.6L433.8 514.4L439.2 515.5L440.3 512.3L437.1 510.1L441.4 506.9L442.5 502.5L438.2 500.4L436.0 498.2L440.3 495.6L447.9 493.8L450.1 497.1L452.7 500.8L453.8 497.1L451.2 493.4L456.6 491.7L460.9 489.9L454.4 488.4L445.7 487.3L437.1 486.9L425.1 485.6L415.4 485.2L406.7 484.7L403.5 483.0L395.9 483.4L387.2 484.7L386.1 487.3L381.8 485.6L376.4 487.8L369.9 488.4L365.5 490.6L362.3 487.3L355.8 486.9L350.4 488.4L344.9 492.8L347.1 496.0L351.4 495.6L354.7 491.7L357.9 492.8L355.8 497.1L352.5 499.3L346.0 500.4L341.7 502.5L338.4 504.3L337.3 506.9Z"/><path d="M344.3 497.8L347.1 496.0L348.2 499.9L345.6 501.4Z"/><path d="M438.8 510.1L441.4 507.9L442.5 512.3L440.3 515.5L438.8 514.4Z"/><path d="M420.2 542.6L421.9 542.0L427.8 550.2L426.2 551.5Z"/><path d="M431.7 544.8L437.1 541.1L438.8 544.8L434.9 549.1L431.7 547.6Z"/><path d="M450.1 547.0L455.5 548.0L460.9 550.2L465.7 555.0L462.0 554.6L456.6 553.5L451.2 549.8Z"/><path d="M432.3 569.7L434.9 565.4L440.3 562.1L444.7 558.9L449.0 557.8L452.2 559.3L455.5 556.7L458.3 557.2L459.8 562.1L463.1 566.5L464.6 570.8L463.1 575.1L458.8 579.1L453.3 580.1L450.1 577.3L445.7 575.1L439.2 575.8L432.7 576.7Z"/></g><path d="M403.5 521.6 C400 516.6 398 514 398 511.3 A5.5 5.5 0 0 1 409 511.3 C409 514 407 516.6 403.5 521.6Z" fill="#0b3a70"/><circle cx="403.5" cy="511" r="2" fill="#a9a9a9"/></svg>
<div class="abs" style="left:474px;top:501px;width:503px;height:99px;background:#efefef;"></div><div class="abs" style="left:474px;top:467px;width:503px;height:34.5px;background:#04356c;"></div><div class="t" style="left:36px;width:1400px;top:476.1px;line-height:21px;font-size:17.4px;font-weight:bold;color:#fff;letter-spacing:0.35px;">REGIONAL ANALYSIS</div><div class="t" style="left:43px;width:1400px;top:518.0px;line-height:36px;font-size:30px;font-weight:bold;color:#e2702b;letter-spacing:0.2px;">Asia Pacific</div><div class="t" style="left:34.200000000000045px;width:1400px;top:561.2px;line-height:21px;font-size:17.3px;font-weight:normal;color:#0b3468;letter-spacing:0.68px;-webkit-text-stroke:0.2px #0b3468;">Expected to grow with the highest CAGR growth</div>
</body></html>
